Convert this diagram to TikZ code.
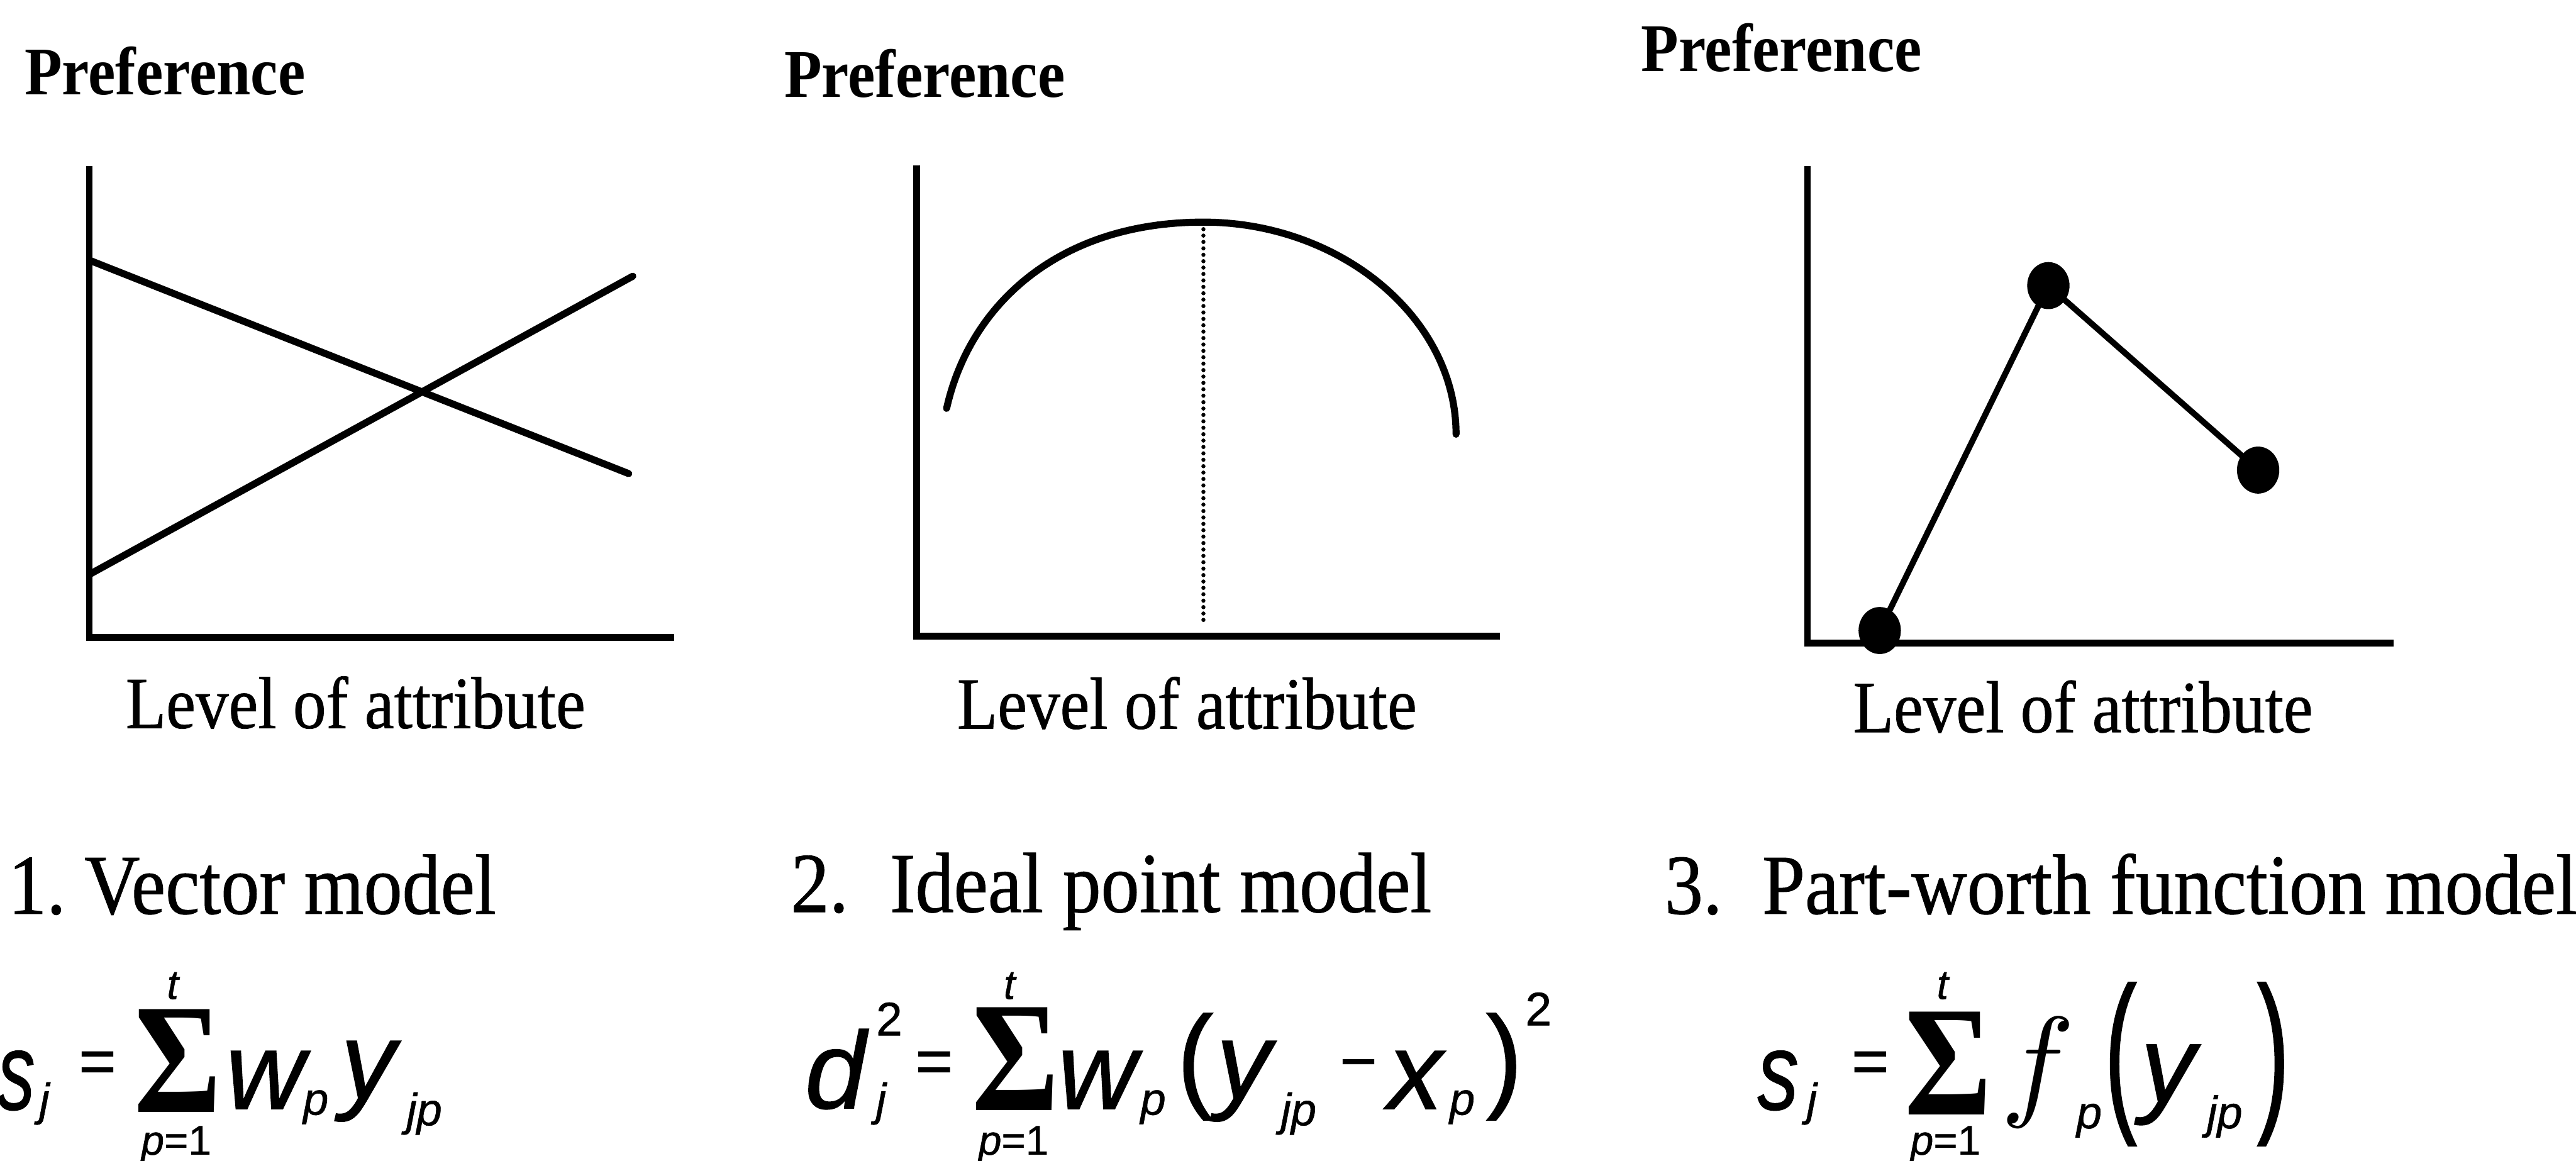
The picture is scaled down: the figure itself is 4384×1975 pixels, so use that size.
\documentclass[tikz,border=0pt]{standalone}
\usepackage{fontspec}
\usepackage{graphicx}
\usetikzlibrary{shapes.geometric}
\newfontfamily\capfont{Liberation Serif}[FakeStretch=0.9]
\newfontfamily\capfontdark{Liberation Serif}[FakeStretch=0.9, FakeBold=0.7]
\newfontfamily\lsans{Liberation Sans}[FakeBold=0.8]
\newfontfamily\lserif{Liberation Serif}
\newcommand\FPref{\fontsize{33}{38}\capfont\bfseries}
\newcommand\FLev{\fontsize{35.6}{40}\capfontdark}
\newcommand\FCap{\fontsize{41.3}{46}\capfontdark}
\newcommand\FMain{\fontsize{53}{60}\lsans\itshape}
\newcommand\FParen{\fontsize{53}{60}\lsans}
\newcommand\FSub{\fontsize{22}{26}\lsans\itshape}
\newcommand\FLim{\fontsize{20}{24}\lsans\itshape}
\newcommand\FEq{\fontsize{31}{36}\lsans}
\newcommand\FSig{\fontsize{76}{80}\lserif\bfseries}
\newcommand\FSup{\fontsize{22.8}{26}\lsans}
\tikzset{
  txt/.style={inner sep=0pt, outer sep=0pt},
  bw/.style={txt, anchor=base west},
  bc/.style={txt, anchor=base},
  axisline/.style={line width=3.3pt, line join=miter},
  curveline/.style={line width=3.4pt, line cap=round},
  segline/.style={line width=2.9pt},
  dotline/.style={line width=2pt, line cap=round, dash pattern=on 0pt off 3.1pt},
  dotnode/.style={ellipse, fill=black, inner sep=0pt, minimum width=0.72cm, minimum height=0.8cm},
}
\begin{document}
\begin{tikzpicture}[x=0.01cm,y=-0.01cm]
\useasboundingbox (0,0) rectangle (4384,1975);

% ---------- Panel 1 ----------
\node[bw, font=\FPref] (pref1) at (42,161) {Preference};
\draw[axisline] (152,283) -- (152,1085) -- (1147,1085);
\draw[curveline] (155,444) -- (1070,806);
\draw[curveline] (155,976) -- (1077,470);
\node[bc, font=\FLev] (lev1) at (605,1239) {Level of attribute};
\node[bw, font=\FCap] (cap1) at (14,1555) {1.\hspace{9pt}Vector model};

% ---------- Panel 2 ----------
\node[bw, font=\FPref] (pref2) at (1335,165) {Preference};
\draw[axisline] (1560,281) -- (1560,1083) -- (2553,1083);
\draw[curveline] (1611,695) .. controls (1650,520) and (1800,378) .. (2048,378)
   .. controls (2280,378) and (2478,540) .. (2478,739);
\draw[dotline] (2048,390) -- (2048,1057);
\node[bc, font=\FLev] (lev2) at (2020,1240) {Level of attribute};
\node[bw, font=\FCap] (cap2) at (1346,1552) {2.\hspace{20pt}Ideal point model};

% ---------- Panel 3 ----------
\node[bw, font=\FPref] (pref3) at (2793,121) {Preference};
\draw[axisline] (3076,283) -- (3076,1094) -- (4074,1094);
\node[dotnode] (p1) at (3199,1073) {};
\node[dotnode] (p2) at (3486,486) {};
\node[dotnode] (p3) at (3843,800) {};
\draw[segline] (p1.center) -- (p2.center) -- (p3.center);
\node[bc, font=\FLev] (lev3) at (3545,1246) {Level of attribute};
\node[bw, font=\FCap] (cap3) at (2833,1555) {3.\hspace{19.4pt}Part-worth function model};

% ---------- Formula 1 ----------
\node[bw, font=\FMain] (f1s) at (-4,1888) {\scalebox{0.68}[1]{s}};
\node[bw, font=\FSub] (f1j) at (67,1898) {j};
\node[bw, font=\FEq] (f1eq) at (134,1843) {=};
\node[bw, font=\FSig] (f1sig) at (228,1893) {\scalebox{0.85}[1]{Σ}};
\node[bc, font=\FLim] (f1t) at (294,1700) {t};
\node[bc, font=\FLim] (f1lim) at (300,1965) {p{\upshape =1}};
\node[bw, font=\FMain] (f1w) at (384,1887) {w};
\node[bw, font=\FSub] (f1wp) at (516,1897) {p};
\node[bw, font=\FMain] (f1y) at (580,1870) {y};
\node[bw, font=\FSub] (f1yjp) at (692,1915) {jp};

% ---------- Formula 2 ----------
\node[bw, font=\FMain] (f2d) at (1370,1886) {d};
\node[bw, font=\FSup] (f2sq) at (1491,1762) {2};
\node[bw, font=\FSub] (f2j) at (1491,1898) {j};
\node[bw, font=\FEq] (f2eq) at (1558,1843) {=};
\node[bw, font=\FSig] (f2sig) at (1654,1890) {\scalebox{0.85}[1]{Σ}};
\node[bc, font=\FLim] (f2t) at (1718,1700) {t};
\node[bc, font=\FLim] (f2lim) at (1725,1965) {p{\upshape =1}};
\node[bw, font=\FMain] (f2w) at (1800,1887) {w};
\node[bw, font=\FSub] (f2wp) at (1941,1897) {p};
\node[bw, font=\FParen] (f2lp) at (2003,1866) {\scalebox{1}[1.05]{(}};
\node[bw, font=\FMain] (f2y) at (2070,1870) {y};
\node[bw, font=\FSub] (f2yjp) at (2180,1915) {jp};
\node[bw, font=\FEq] (f2minus) at (2280,1843) {−};
\node[bw, font=\FMain] (f2x) at (2362,1887) {x};
\node[bw, font=\FSub] (f2xp) at (2467,1897) {p};
\node[bw, font=\FParen] (f2rp) at (2529,1866) {\scalebox{1}[1.05]{)}};
\node[bw, font=\FSup] (f2sq2) at (2596,1745) {2};

% ---------- Formula 3 ----------
\node[bw, font=\FMain] (f3s) at (2991,1888) {\scalebox{0.75}[1]{s}};
\node[bw, font=\FSub] (f3j) at (3075,1898) {j};
\node[bw, font=\FEq] (f3eq) at (3151,1843) {=};
\node[bw, font=\FSig] (f3sig) at (3241,1897) {\scalebox{0.85}[1]{Σ}};
\node[bc, font=\FLim] (f3t) at (3306,1700) {t};
\node[bc, font=\FLim] (f3lim) at (3311,1965) {p{\upshape =1}};
\node[bw] (f3f) at (3405,1878) {\scalebox{6}{$f$}};
\node[bw, font=\FSub] (f3fp) at (3534,1920) {p};
\node[bw, font=\FParen] (f3lp) at (3581,1888) {\scalebox{0.9}[1.6]{(}};
\node[bw, font=\FMain] (f3y) at (3643,1876) {y};
\node[bw, font=\FSub] (f3yjp) at (3756,1920) {jp};
\node[bw, font=\FParen] (f3rp) at (3841,1888) {\scalebox{0.9}[1.6]{)}};
\end{tikzpicture}
\end{document}
